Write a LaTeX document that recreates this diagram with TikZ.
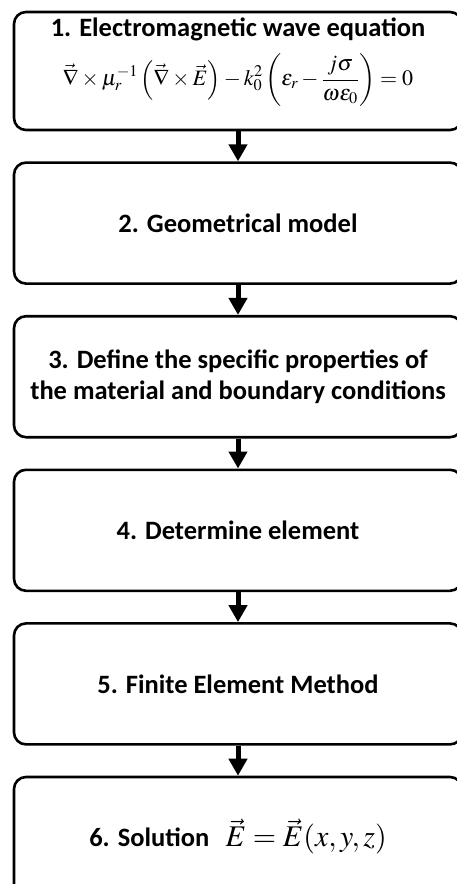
\documentclass[tikz,border=0pt]{standalone}
\usepackage{mathptmx}
\usepackage[no-math]{fontspec}
\setmainfont{Carlito}
\usetikzlibrary{arrows.meta,positioning}
\tikzstyle{post}=[-{Triangle[width=18pt,length=17pt]},line width=5pt,shorten >=0pt]
\tikzstyle{stepbox}=[draw,line width=2.6pt,rounded corners=12pt,minimum width=448pt,minimum height=121pt,align=center,font=\fontsize{26.5}{31}\selectfont\bfseries]

\begin{document}
\begin{tikzpicture}[x=1pt,y=1pt,node distance=30pt]
            \useasboundingbox (0,0) rectangle (457,-884);
            \node (b1) [stepbox, minimum height=118pt] at (238,-71) {1. Electromagnetic wave equation\\[12pt]
                {\mdseries\fontsize{22}{26}\selectfont$\displaystyle\vec{\nabla}\times\mu_r^{-1}\left(\vec{\nabla}\times\vec{E}\right)-k_0^2\left(\varepsilon_r-\frac{j\sigma}{\omega\varepsilon_0}\right)=0$}\\[8pt]};
            \node (b2) [stepbox] [below=of b1] {2. Geometrical model};
            \node (b3) [stepbox] [below=of b2] {3. Define the specific properties of\\the material and boundary conditions};
            \node (b4) [stepbox] [below=of b3] {4. Determine element};
            \node (b5) [stepbox] [below=of b4] {5. Finite Element Method};
            \node (b6) [stepbox, minimum height=119pt] [below=of b5] {6. Solution\ \ \,{\mdseries\fontsize{30}{34}\selectfont$\vec{E}=\vec{E}(x,y,z)$}};

            \draw[post] (b1) -- (b2);
            \draw[post] (b2) -- (b3);
            \draw[post] (b3) -- (b4);
            \draw[post] (b4) -- (b5);
            \draw[post] (b5) -- (b6);
\end{tikzpicture}
\end{document}
